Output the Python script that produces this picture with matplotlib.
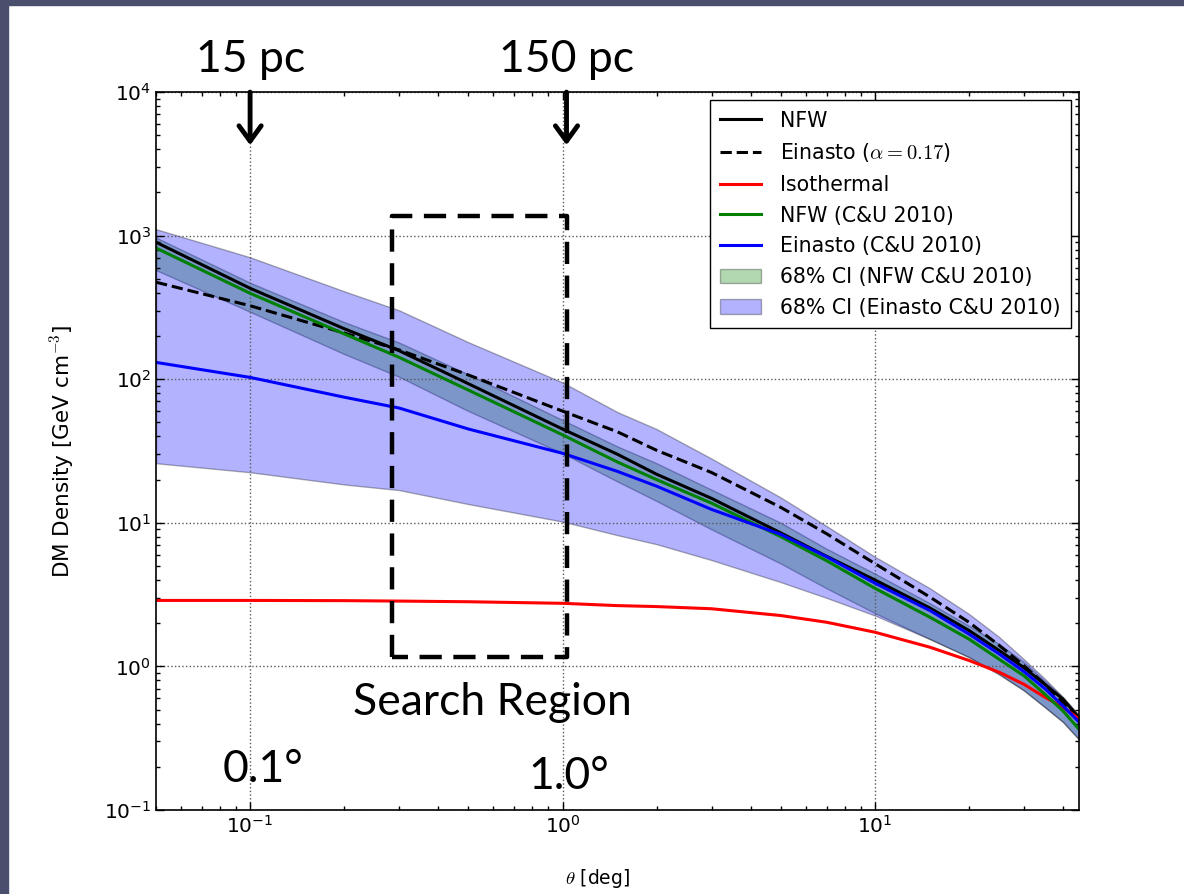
import matplotlib
matplotlib.use('Agg')
import matplotlib.pyplot as plt
from matplotlib.patches import Rectangle

# angle from the Galactic Centre [deg]
theta = [0.05, 0.1, 0.2, 0.3, 0.5, 1.0, 1.5, 2.0, 3.0, 5.0, 7.0, 10.0,
         15.0, 20.0, 25.0, 30.0, 35.0, 40.0, 45.0]

# DM density [GeV cm^-3]
nfw = [900, 430, 225, 158, 93, 45, 30, 21.8, 14.8, 8.5, 5.85, 4.0,
       2.55, 1.78, 1.29, 0.98, 0.75, 0.59, 0.44]
einasto = [474, 325, 210, 160, 107, 60, 43, 32, 22.4, 12.8, 8.4, 5.2,
           3.04, 2.03, 1.40, 1.01, 0.75, 0.56, 0.42]
isothermal = [2.88, 2.88, 2.87, 2.85, 2.82, 2.75, 2.65, 2.61, 2.52, 2.26, 2.03, 1.73,
              1.36, 1.10, 0.91, 0.75, 0.61, 0.52, 0.43]
nfw_cu = [820, 397, 207, 142, 84, 41, 26.5, 20, 13.7, 8.0, 5.45, 3.5,
          2.2, 1.55, 1.12, 0.86, 0.64, 0.49, 0.365]
einasto_cu = [131, 103, 75, 63, 45, 30.5, 22.8, 18, 12.4, 8.3, 5.8, 3.8,
              2.45, 1.68, 1.22, 0.92, 0.70, 0.53, 0.41]

nfw_cu_lo = [575, 295, 150, 104, 60, 30.5, 19.4, 14.2, 9.0, 5.2, 3.5, 2.35,
             1.55, 1.16, 0.88, 0.68, 0.52, 0.41, 0.31]
nfw_cu_hi = [970, 470, 250, 180, 108, 52, 34, 26, 17, 10, 6.6, 4.43,
             2.75, 1.92, 1.43, 1.07, 0.79, 0.61, 0.46]
einasto_cu_lo = [26, 22.5, 18.5, 16.9, 13.5, 10.2, 8.2, 7.1, 5.5, 3.86, 3.0, 2.26,
                 1.55, 1.16, 0.88, 0.68, 0.52, 0.41, 0.31]
einasto_cu_hi = [1110, 707, 410, 302, 181, 95, 59, 45, 28, 15, 9.5, 5.8,
                 3.5, 2.32, 1.6, 1.12, 0.82, 0.61, 0.45]

# search region box (deg, density)
box_theta = [0.285, 1.03]
box_rho = [1.16, 1380]

plt.rcParams['mathtext.fontset'] = 'cm'
ann_font = 'Lato'

fig = plt.figure(figsize=(11.84, 8.94), dpi=100)
ax = fig.add_axes([0.1318, 0.094, 0.7795, 0.803])

ax.fill_between(theta, nfw_cu_lo, nfw_cu_hi, facecolor='green', edgecolor='black',
                alpha=0.3, lw=1, label='68% CI (NFW C&U 2010)')
ax.fill_between(theta, einasto_cu_lo, einasto_cu_hi, facecolor='blue', edgecolor='black',
                alpha=0.3, lw=1, label='68% CI (Einasto C&U 2010)')

ax.plot(theta, nfw, color='black', lw=2.2, label='NFW')
ax.plot(theta, einasto, color='black', lw=2.2, ls='--', label=r'Einasto ($\alpha =0.17$)')
ax.plot(theta, isothermal, color='red', lw=2.2, label='Isothermal')
ax.plot(theta, nfw_cu, color='green', lw=2.2, label='NFW (C&U 2010)')
ax.plot(theta, einasto_cu, color='blue', lw=2.2, label='Einasto (C&U 2010)')

ax.set_xscale('log')
ax.set_yscale('log')
ax.set_xlim(0.05, 45)
ax.set_ylim(0.1, 1e4)

ax.grid(True, which='major', ls=':', color='0.35', lw=1)
ax.tick_params(which='both', direction='in', top=True, right=True, labelsize=14.5)
ax.tick_params(which='major', length=6, width=1)
ax.tick_params(which='minor', length=3, width=1)
for s in ax.spines.values():
    s.set_linewidth(1.2)

ax.set_xlabel(r'$\theta$ [deg]', fontsize=13.5)
ax.set_ylabel(r'DM Density [GeV cm$^{-3}$]', fontsize=15.5)
ax.xaxis.set_label_coords(0.478, -0.08)
ax.yaxis.set_label_coords(-0.087, 0.5)

handles, labels = ax.get_legend_handles_labels()
order = [2, 3, 4, 5, 6, 0, 1]
ax.legend([handles[i] for i in order], [labels[i] for i in order], loc='upper right',
          fontsize=14.8, fancybox=False, edgecolor='black', framealpha=1,
          borderaxespad=0.4, borderpad=0.5, labelspacing=0.52,
          handlelength=2.0, handletextpad=0.9)

# search region
bx = [box_theta[0], box_theta[0], box_theta[1], box_theta[1], box_theta[0]]
by = [box_rho[0], box_rho[1], box_rho[1], box_rho[0], box_rho[0]]
ax.plot(bx, by, color='black', lw=3.2, ls=(0, (5, 2.6)), zorder=5)

# slide annotations
xt = ax.get_xaxis_transform()
ax.text(0.1, 1.045, '15 pc', transform=xt, ha='center', va='center',
        fontsize=32, family=ann_font, clip_on=False)
ax.text(1.03, 1.045, '150 pc', transform=xt, ha='center', va='center',
        fontsize=32, family=ann_font, clip_on=False)
for xa in [0.1, 1.03]:
    ax.annotate('', xy=(xa, 0.926), xytext=(xa, 1.0), xycoords=xt, textcoords=xt,
                arrowprops=dict(arrowstyle='->, head_length=0.55, head_width=0.4',
                                lw=3.5, color='black', mutation_scale=20,
                                shrinkA=0, shrinkB=0), zorder=6)

ax.text(0.364, 0.149, 'Search Region', transform=ax.transAxes, ha='center',
        va='center', fontsize=32, family=ann_font)
ax.text(0.116, 0.056, '0.1°', transform=ax.transAxes, ha='center',
        va='center', fontsize=32, family=ann_font)
ax.text(0.447, 0.046, '1.0°', transform=ax.transAxes, ha='center',
        va='center', fontsize=32, family=ann_font)

# slide frame
fig.patches.append(Rectangle((0, 0), 8 / 1184, 1, transform=fig.transFigure,
                             color='#4b4f6e', zorder=-1))
fig.patches.append(Rectangle((0, 1 - 5 / 894), 1, 5 / 894, transform=fig.transFigure,
                             color='#4b4f6e', zorder=-1))

fig.savefig('out.png', dpi=100)
